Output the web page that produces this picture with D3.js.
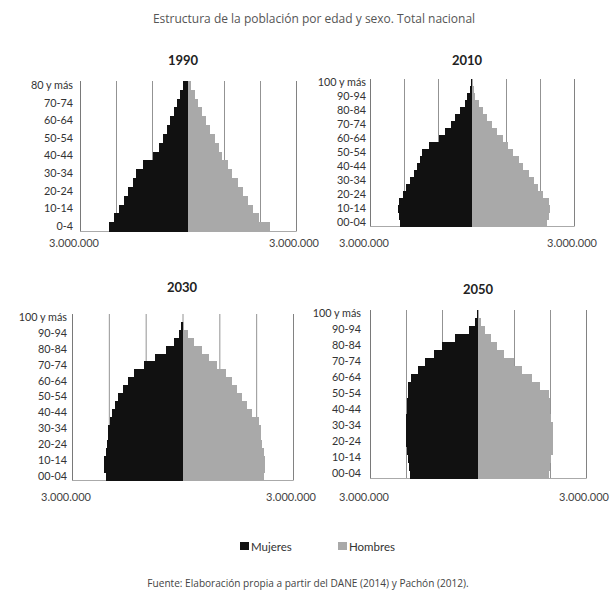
<!DOCTYPE html>
<html lang="es">
<head>
    <meta charset="UTF-8">
    <script src="https://cdnjs.cloudflare.com/ajax/libs/d3/7.8.5/d3.min.js"></script>
    <style>
        body { margin: 0; background: #fff; }
        svg { display: block; }
    </style>
</head>
<body>
    <svg id="chart" width="610" height="595"></svg>
    <script>
        // grupos de edad (de abajo hacia arriba)
        const edades1990 = ["0-4", "5-9", "10-14", "15-19", "20-24", "25-29", "30-34", "35-39",
            "40-44", "45-49", "50-54", "55-59", "60-64", "65-69", "70-74", "75-79", "80 y más"];
        const edades = ["00-04", "05-09", "10-14", "15-19", "20-24", "25-29", "30-34", "35-39",
            "40-44", "45-49", "50-54", "55-59", "60-64", "65-69", "70-74", "75-79", "80-84",
            "85-89", "90-94", "95-99", "100 y más"];

        // población
        const mujeres1990 = [2190000, 2050000, 1910000, 1770000, 1680000, 1540000, 1440000, 1260000,
            980000, 810000, 690000, 580000, 490000, 400000, 310000, 210000, 140000];
        const hombres1990 = [2270000, 1970000, 1810000, 1670000, 1530000, 1390000, 1230000, 1110000,
            950000, 860000, 740000, 620000, 510000, 400000, 280000, 190000, 70000];

        const mujeres2010 = [2130000, 2150000, 2170000, 2150000, 2030000, 1950000, 1830000, 1710000,
            1610000, 1530000, 1460000, 1270000, 980000, 780000, 630000, 490000, 340000,
            220000, 140000, 70000, 20000];
        const hombres2010 = [2200000, 2260000, 2290000, 2260000, 2100000, 1950000, 1830000, 1680000,
            1510000, 1370000, 1220000, 1070000, 900000, 730000, 590000, 440000, 310000,
            200000, 100000, 50000, 20000];

        const mujeres2030 = [2090000, 2120000, 2120000, 2090000, 2050000, 2030000, 2010000, 1980000,
            1910000, 1830000, 1740000, 1620000, 1490000, 1330000, 1040000, 740000, 450000,
            230000, 90000, 30000, 0];
        const hombres2030 = [2210000, 2230000, 2230000, 2210000, 2160000, 2140000, 2120000, 2090000,
            1890000, 1760000, 1620000, 1490000, 1350000, 1170000, 950000, 720000, 520000,
            320000, 140000, 50000, 0];

        const mujeres2050 = [1900000, 1930000, 1940000, 1960000, 1990000, 2010000, 2010000, 1990000,
            1960000, 1960000, 1940000, 1940000, 1850000, 1680000, 1480000, 1210000, 1010000,
            640000, 260000, 90000, 20000];
        const hombres2050 = [1960000, 2000000, 2030000, 2070000, 2090000, 2090000, 2070000, 2030000,
            2000000, 2000000, 1980000, 1720000, 1500000, 1230000, 1000000, 720000, 530000,
            350000, 190000, 90000, 20000];

        const anios = ["1990", "2010", "2030", "2050"];
        const extremo = 3000000;
        const ticksX = [-3000000, -2000000, -1000000, 0, 1000000, 2000000, 3000000];

        const datos = {
            "1990": { edades: edades1990, mujeres: mujeres1990, hombres: hombres1990 },
            "2010": { edades: edades, mujeres: mujeres2010, hombres: hombres2010 },
            "2030": { edades: edades, mujeres: mujeres2030, hombres: hombres2030 },
            "2050": { edades: edades, mujeres: mujeres2050, hombres: hombres2050 }
        };

        // posición de cada pirámide en la página
        const paneles = {
            "1990": { x0: 80, x1: 296, y0: 81, y1: 231, tx: 183, ty: 61, ly: 243, gap: 7 },
            "2010": { x0: 370, x1: 574, y0: 79, y1: 226, tx: 467, ty: 61, ly: 243, gap: 4 },
            "2030": { x0: 72, x1: 293, y0: 314, y1: 480, tx: 182, ty: 288, ly: 497, gap: 5 },
            "2050": { x0: 370, x1: 586, y0: 310, y1: 478, tx: 478, ty: 290, ly: 497, gap: 9 }
        };

        const svg = d3.select("#chart");
        const fuente = "Lato, 'Noto Sans', sans-serif";

        svg.append("text")
            .attr("x", 314).attr("y", 23)
            .attr("text-anchor", "middle")
            .style("font-family", "'Open Sans', sans-serif")
            .style("font-size", "12px")
            .style("fill", "#555")
            .text("Estructura de la población por edad y sexo. Total nacional");

        anios.forEach(anio => {
            const p = paneles[anio];
            const d = datos[anio];

            const x = d3.scaleLinear().domain([-extremo, extremo]).range([p.x0, p.x1]);
            const y = d3.scaleBand().domain(d.edades).range([p.y1, p.y0]).padding(0);

            const g = svg.append("g");

            // líneas verticales de referencia
            g.append("g")
                .attr("transform", `translate(0, ${p.y1})`)
                .call(d3.axisBottom(x).tickValues(ticksX).tickSize(-(p.y1 - p.y0)).tickFormat(""))
                .call(a => a.select(".domain").attr("stroke", "#aaa"))
                .call(a => a.selectAll(".tick line").attr("stroke", "#777").attr("stroke-width", 0.8));

            g.append("g")
                .selectAll("rect")
                .data(d.mujeres)
                .enter()
                .append("rect")
                .attr("x", v => x(-v))
                .attr("y", (v, i) => y(d.edades[i]))
                .attr("width", v => x(0) - x(-v))
                .attr("height", y.bandwidth() + 0.5)
                .attr("shape-rendering", "crispEdges")
                .style("fill", "#111");

            g.append("g")
                .selectAll("rect")
                .data(d.hombres)
                .enter()
                .append("rect")
                .attr("x", x(0))
                .attr("y", (v, i) => y(d.edades[i]))
                .attr("width", v => x(v) - x(0))
                .attr("height", y.bandwidth() + 0.5)
                .attr("shape-rendering", "crispEdges")
                .style("fill", "#a9a9a9");

            // etiquetas de edad, una sí y una no
            g.append("g")
                .attr("transform", `translate(${p.x0}, 0)`)
                .call(d3.axisLeft(y)
                    .tickValues(d.edades.filter((e, i) => i % 2 === 0))
                    .tickSize(0).tickPadding(p.gap))
                .call(a => a.select(".domain").attr("stroke", "#777").attr("stroke-width", 0.8))
                .call(a => a.selectAll("text")
                    .style("font-family", fuente)
                    .style("font-size", "10.8px")
                    .style("fill", "#333"));

            g.append("text")
                .attr("x", p.tx).attr("y", p.ty + 4)
                .attr("text-anchor", "middle")
                .style("font-family", fuente)
                .style("font-weight", "bold")
                .style("font-size", "13px")
                .style("fill", "#222")
                .text(anio);

            [-extremo, extremo].forEach(v => {
                g.append("text")
                    .attr("x", x(v) - (v < 0 ? 6 : 2))
                    .attr("y", p.ly + 4)
                    .attr("text-anchor", "middle")
                    .style("font-family", fuente)
                    .style("font-size", "11px")
                    .style("fill", "#444")
                    .text("3.000.000");
            });
        });

        // leyenda
        const leyenda = [
            { nombre: "Mujeres", color: "#111", x: 240 },
            { nombre: "Hombres", color: "#a9a9a9", x: 338 }
        ];
        const lg = svg.append("g")
            .selectAll("g")
            .data(leyenda)
            .enter()
            .append("g")
            .attr("transform", l => `translate(${l.x}, 542)`);
        lg.append("rect").attr("width", 9).attr("height", 8).style("fill", l => l.color);
        lg.append("text")
            .attr("x", 11).attr("y", 8.5)
            .style("font-family", fuente)
            .style("font-size", "11.5px")
            .style("fill", "#333")
            .text(l => l.nombre);

        svg.append("text")
            .attr("x", 308).attr("y", 587)
            .attr("text-anchor", "middle")
            .style("font-family", "'Open Sans', sans-serif")
            .style("font-size", "10.1px")
            .style("fill", "#444")
            .text("Fuente: Elaboración propia a partir del DANE (2014) y Pachón (2012).");
    </script>
</body>
</html>
